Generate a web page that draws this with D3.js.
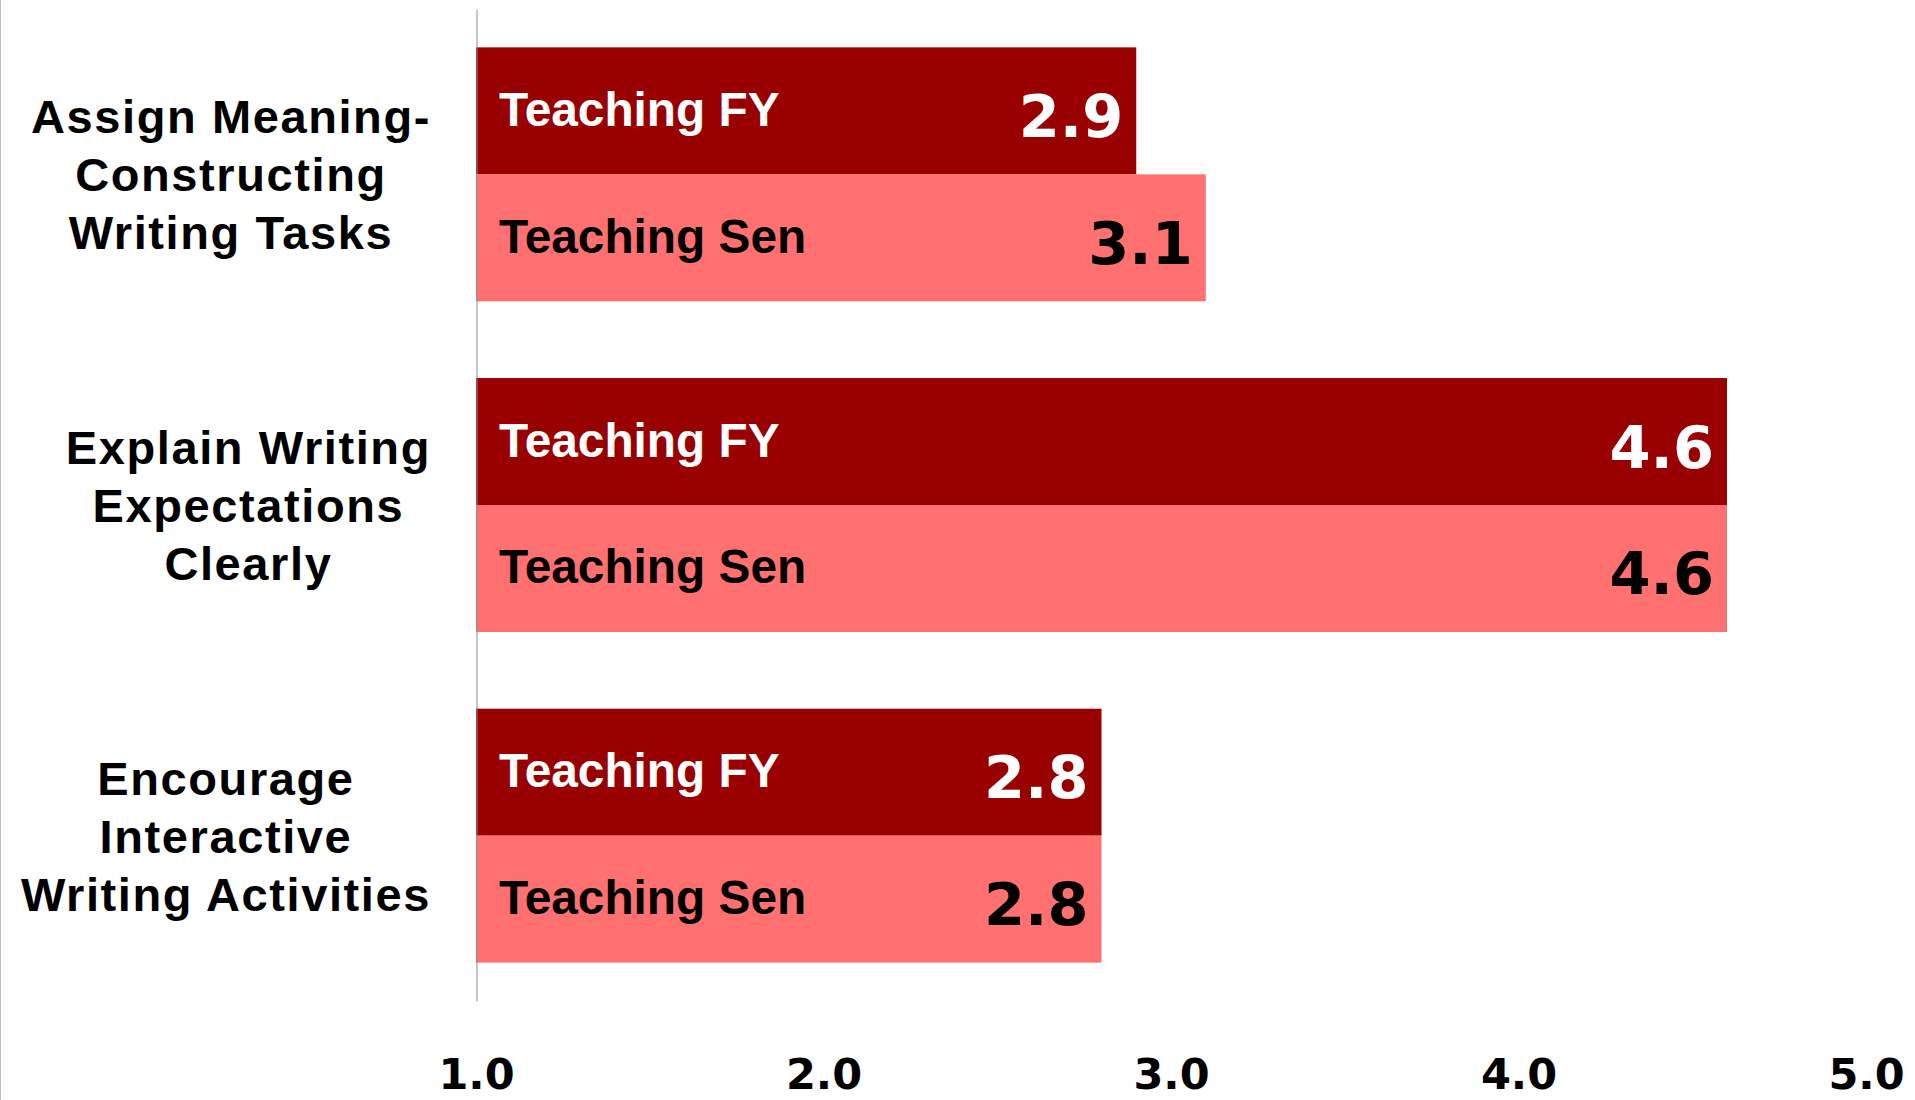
<!DOCTYPE html>
<html>
<head>
<meta charset="utf-8">
<script src="https://cdn.jsdelivr.net/npm/d3@7"></script>
<style>
  html, body { margin: 0; padding: 0; background: #ffffff; }
  svg { display: block; }
</style>
</head>
<body>
<svg id="chart" width="1915" height="1100"></svg>
<script>
// ---- data ----
const categories = [
  "Assign Meaning-\nConstructing\nWriting Tasks",
  "Explain Writing\nExpectations\nClearly",
  "Encourage\nInteractive\nWriting Activities"
];
const seriesNames = ["Teaching FY", "Teaching Sen"];
const teachingFY = [2.9, 4.6, 2.8];
const teachingSen = [3.1, 4.6, 2.8];
const xTicks = [1.0, 2.0, 3.0, 4.0, 5.0];

// ---- styles ----
const seriesFill = ["#990000", "#FF7070"];
const seriesText = ["#ffffff", "#000000"];

const svg = d3.select("#chart");
const W = 1915, H = 1100;

// left border line
svg.append("line")
  .attr("x1", 0.5).attr("x2", 0.5).attr("y1", 0).attr("y2", H)
  .attr("stroke", "#c0c0c0").attr("stroke-width", 1);

const x = d3.scaleLinear().domain([1, 5]).range([476, 1866]);
const y0 = d3.scaleBand().domain(categories).range([9, 1001])
  .paddingInner(0.232).paddingOuter(0.116);
const y1 = d3.scaleBand().domain(seriesNames).range([0, y0.bandwidth()]);

const rows = categories.map((c, i) => ({
  cat: c,
  values: [teachingFY[i], teachingSen[i]]
}));

// bars
const groups = svg.append("g").selectAll("g.grp").data(rows).join("g")
  .attr("class", "grp")
  .attr("transform", d => `translate(0,${y0(d.cat)})`);

groups.selectAll("rect").data(d => d.values.map((v, j) => ({ v, s: seriesNames[j], j })))
  .join("rect")
  .attr("x", x(1))
  .attr("y", d => y1(d.s))
  .attr("width", d => x(d.v) - x(1))
  .attr("height", y1.bandwidth())
  .attr("fill", d => seriesFill[d.j]);

// series labels inside bars
groups.selectAll("text.sname").data(d => d.values.map((v, j) => ({ v, s: seriesNames[j], j })))
  .join("text")
  .attr("class", "sname")
  .attr("x", x(1) + 23)
  .attr("y", d => y1(d.s) + y1.bandwidth() / 2 + 15)
  .attr("font-family", "'Liberation Sans', Arial, sans-serif")
  .attr("font-weight", "bold")
  .attr("font-size", 47.8)
  .attr("fill", d => seriesText[d.j])
  .text(d => d.s);

// value labels
groups.selectAll("text.val").data(d => d.values.map((v, j) => ({ v, s: seriesNames[j], j })))
  .join("text")
  .attr("class", "val")
  .attr("x", d => x(d.v) - 13)
  .attr("y", d => y1(d.s) + y1.bandwidth() / 2 + 26)
  .attr("text-anchor", "end")
  .attr("font-family", "'DejaVu Sans', Verdana, sans-serif")
  .attr("font-weight", "bold")
  .attr("font-size", 59)
  .attr("fill", d => seriesText[d.j])
  .text(d => d3.format(".1f")(d.v));

// vertical axis line (category axis, no tick labels)
const yAxis = svg.append("g")
  .attr("transform", `translate(${x(1) + 0.5},0)`)
  .call(d3.axisLeft(y0).tickSize(0).tickSizeOuter(0).tickFormat(""));
yAxis.select(".domain").attr("stroke", "#8c8c8c").attr("stroke-width", 1);

// category labels: centred lines, block right edge at 431
const labelRight = 431;
const catG = svg.append("g");
rows.forEach(r => {
  const lines = r.cat.split("\n");
  const cy = y0(r.cat) + y0.bandwidth() / 2;
  const t = catG.append("text")
    .attr("font-family", "'Liberation Sans', Arial, sans-serif")
    .attr("font-weight", "bold")
    .attr("font-size", 47)
    .attr("letter-spacing", "1.6px")
    .attr("text-anchor", "middle")
    .attr("fill", "#000");
  const spans = lines.map((ln, i) => t.append("tspan")
    .attr("y", cy + 17 + (i - (lines.length - 1) / 2) * 58)
    .text(ln));
  const maxW = d3.max(spans, s => s.node().getComputedTextLength());
  spans.forEach(s => s.attr("x", labelRight - maxW / 2));
});

// x axis tick labels
const xAxis = svg.append("g")
  .attr("transform", `translate(0,1089)`)
  .call(d3.axisBottom(x).tickValues(xTicks).tickFormat(d3.format(".1f")).tickSize(0));
xAxis.select(".domain").remove();
xAxis.selectAll("text")
  .attr("y", 0).attr("dy", 0)
  .attr("font-family", "'DejaVu Sans', Verdana, sans-serif")
  .attr("font-weight", "bold")
  .attr("font-size", 43)
  .attr("fill", "#000");
</script>
</body>
</html>
